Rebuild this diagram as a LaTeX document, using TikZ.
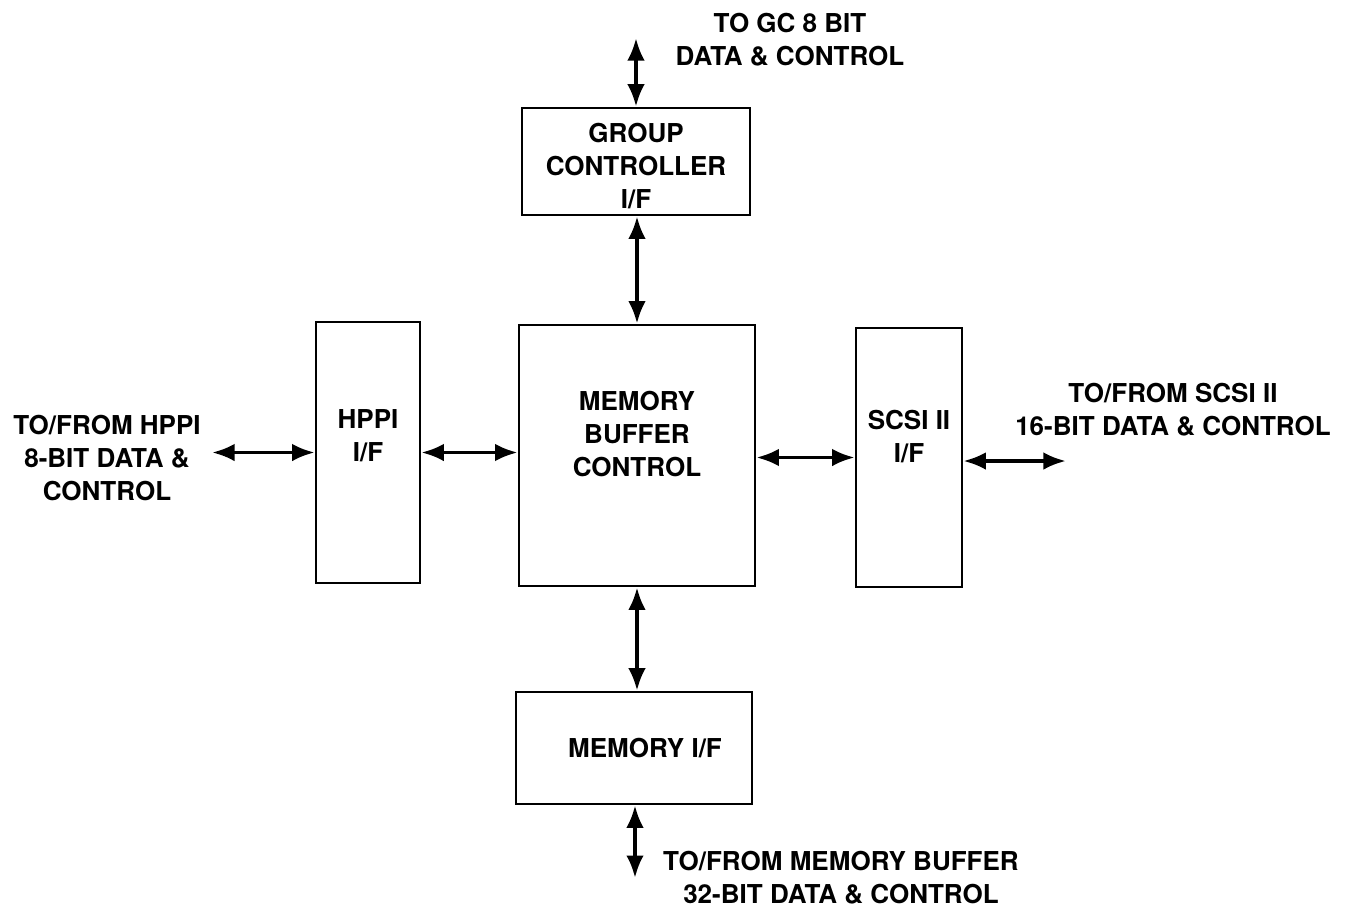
\documentclass[tikz,border=0pt]{standalone}
\usepackage{fontspec}
\setmainfont{TeX Gyre Heros}
\usetikzlibrary{arrows.meta}

\begin{document}
\begin{tikzpicture}[x=0.01cm,y=-0.01cm,
  block/.style={draw,line width=0.7pt,inner sep=0pt},
  txt/.style={align=center,inner sep=0pt,font=\fontsize{7.4}{9.4}\selectfont\bfseries},
  link/.style={line width=1.1pt,{Latex[length=6.4pt,width=5pt]}-{Latex[length=6.4pt,width=5pt]}}]
  \useasboundingbox (0,0) rectangle (1347,908);

  % blocks
  \node[block,minimum width=2.28cm,minimum height=1.07cm] (gc) at (636,161.5) {};
  \node[block,minimum width=1.04cm,minimum height=2.61cm] (hppi) at (368,452.5) {};
  \node[block,minimum width=2.36cm,minimum height=2.61cm] (mbc) at (637,455.5) {};
  \node[block,minimum width=1.06cm,minimum height=2.59cm] (scsi) at (909,457.5) {};
  \node[block,minimum width=2.36cm,minimum height=1.12cm] (mem) at (634,748) {};

  \node[txt] (gctext) at (636,166) {GROUP\\CONTROLLER\\I/F};
  \node[txt] (hppitext) at (368,436) {HPPI\\I/F};
  \node[txt] (mbctext) at (637,434) {MEMORY\\BUFFER\\CONTROL};
  \node[txt] (scsitext) at (909,437) {SCSI II\\I/F};
  \node[txt] (memtext) at (645,748) {MEMORY I/F};

  % outside connections
  \coordinate (gcend) at (636,38);
  \coordinate (hppiend) at (212,452.5);
  \coordinate (scsiend) at (1066,461);
  \coordinate (memend) at (635,878);

  \node[txt] (gclabel) at (790,40) {TO GC 8 BIT\\DATA \& CONTROL};
  \node[txt] (hppilabel) at (107,458) {TO/FROM HPPI\\8-BIT DATA \&\\CONTROL};
  \node[txt] (scsilabel) at (1173,410) {TO/FROM SCSI II\\16-BIT DATA \& CONTROL};
  \node[txt] (memlabel) at (841,878) {TO/FROM MEMORY BUFFER\\32-BIT DATA \& CONTROL};

  % arrows
  \draw[link] (gcend) -- (gc.north -| gcend);
  \draw[link] (gc.south -| mbc) -- (mbc.north);
  \draw[link] (hppiend) -- (hppi.west);
  \draw[link] (hppi.east) -- (hppi.east -| mbc.west);
  \draw[link] (scsi.west -| mbc.east) -- (scsi.west);
  \draw[link] (scsi.east |- scsiend) -- (scsiend);
  \draw[link] (mbc.south) -- (mbc.south |- mem.north);
  \draw[link] (mem.south -| memend) -- (memend);
\end{tikzpicture}
\end{document}
